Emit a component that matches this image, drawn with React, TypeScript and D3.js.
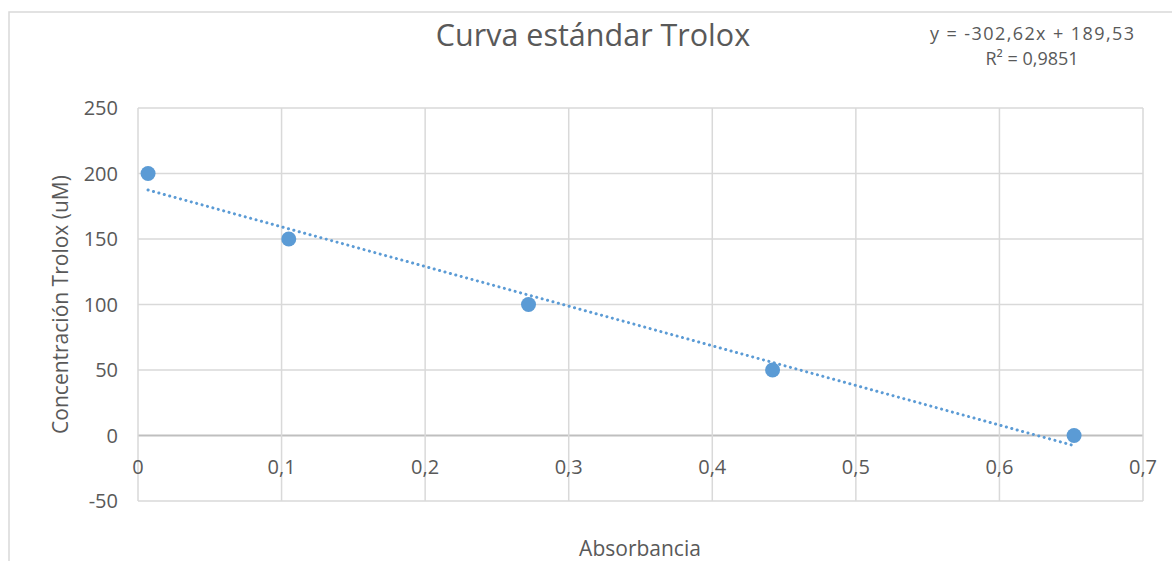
import React from 'react';
import * as d3 from 'd3';

// Curva estándar Trolox — absorbancia vs concentración
const absorbance = [0.007, 0.105, 0.272, 0.442, 0.652];
const concentration = [200, 150, 100, 50, 0];
const xTicks = [0, 0.1, 0.2, 0.3, 0.4, 0.5, 0.6, 0.7];
const yTicks = [-50, 0, 50, 100, 150, 200, 250];
const slope = -302.62;
const intercept = 189.53;

const W = 1172;
const H = 561;
const FONT = '"Open Sans", "Noto Sans", sans-serif';
const TEXT = '#595959';
const GRID = '#d9d9d9';
const BLUE = '#5b9bd5';

export default function App() {
  const margin = { left: 138, right: 29, top: 108, bottom: 60 };
  const x = d3.scaleLinear().domain([0, 0.7]).range([margin.left, W - margin.right]);
  const y = d3.scaleLinear().domain([-50, 250]).range([H - margin.bottom, margin.top]);
  const fmt = (v: number) => String(v).replace('.', ',');

  const xMin = d3.min(absorbance) as number;
  const xMax = d3.max(absorbance) as number;
  const trend = d3.line<number>().x(d => x(d)).y(d => y(slope * d + intercept));

  return (
    <svg width={W} height={H} style={{ position: 'absolute', left: 0, top: 0, background: '#fff' }}>
      <rect x={9} y={12} width={W + 20} height={H + 20} fill="#fff" stroke={GRID} strokeWidth={1.5} />

      <text x={593} y={46} textAnchor="middle" fontFamily={FONT} fontSize={30.5} fill={TEXT}>
        Curva estándar Trolox
      </text>

      {/* gridlines */}
      {yTicks.map(t => (
        <line key={'gy' + t} x1={x(0)} x2={x(0.7)} y1={y(t)} y2={y(t)}
          stroke={t === 0 ? '#bfbfbf' : GRID} strokeWidth={t === 0 ? 2 : 1.5} />
      ))}
      {xTicks.map(t => (
        <line key={'gx' + t} x1={x(t)} x2={x(t)} y1={y(250)} y2={y(-50)} stroke={GRID} strokeWidth={1.5} />
      ))}

      {/* tick labels */}
      {yTicks.map(t => (
        <text key={'ly' + t} x={x(0) - 20} y={y(t)} dy="0.35em" textAnchor="end"
          fontFamily={FONT} fontSize={20} fill={TEXT}>{t}</text>
      ))}
      {xTicks.map(t => (
        <text key={'lx' + t} x={x(t)} y={y(0) + 31} dy="0.35em" textAnchor="middle"
          fontFamily={FONT} fontSize={20} fill={TEXT}>{fmt(t)}</text>
      ))}

      {/* trendline */}
      <path d={trend([xMin, xMax]) || ''} fill="none" stroke={BLUE} strokeWidth={3}
        strokeDasharray="0.1 5.5" strokeLinecap="round" />

      {/* points */}
      {absorbance.map((a, i) => (
        <circle key={'p' + i} cx={x(a)} cy={y(concentration[i])} r={7.5} fill={BLUE} />
      ))}

      {/* equation */}
      <text x={1032} y={40} textAnchor="middle" fontFamily={FONT} fontSize={18}
        textLength={204} lengthAdjust="spacing" fill={TEXT}>
        y = -302,62x + 189,53
      </text>
      <text x={1032} y={65} textAnchor="middle" fontFamily={FONT} fontSize={18} fill={TEXT}>
        R² = 0,9851
      </text>

      {/* axis titles */}
      <text x={640} y={556} textAnchor="middle" fontFamily={FONT} fontSize={21} fill={TEXT}>
        Absorbancia
      </text>
      <text transform={`translate(68,${(y(250) + y(-50)) / 2}) rotate(-90)`} textAnchor="middle"
        fontFamily={FONT} fontSize={21} fill={TEXT}>
        Concentración Trolox (uM)
      </text>
    </svg>
  );
}
